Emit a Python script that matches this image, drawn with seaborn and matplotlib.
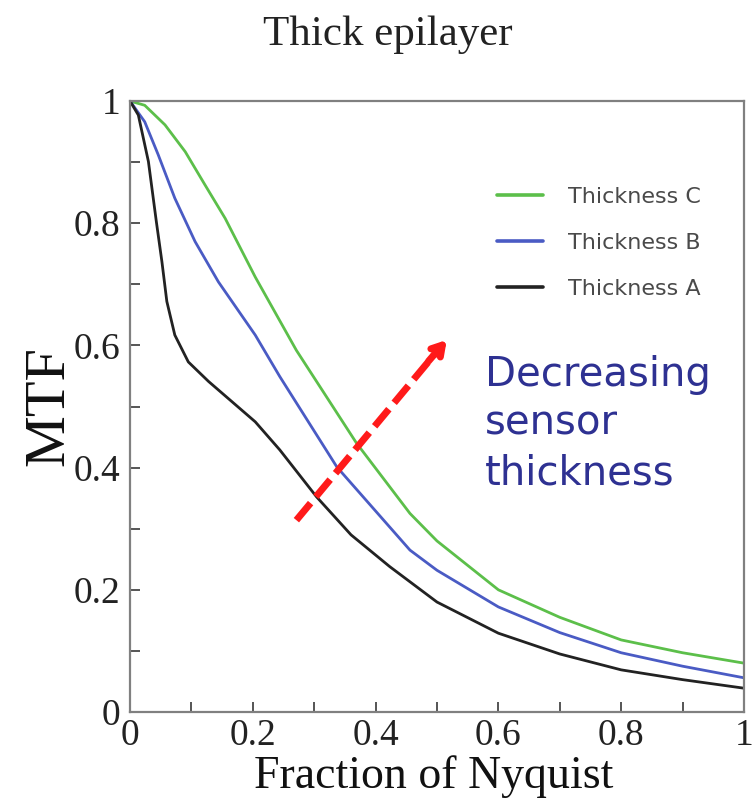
import numpy as np
import pandas as pd
import matplotlib
matplotlib.use("Agg")
import matplotlib.pyplot as plt
import seaborn as sns
from matplotlib.ticker import MultipleLocator, FixedLocator

# ---- data ----
x_c = [0.0, 0.024, 0.057, 0.090, 0.122, 0.155, 0.204, 0.271, 0.369, 0.456, 0.50, 0.60, 0.70, 0.80, 0.90, 1.0]
y_c = [1.0, 0.993, 0.961, 0.917, 0.863, 0.808, 0.712, 0.592, 0.440, 0.325, 0.28, 0.20, 0.155, 0.118, 0.097, 0.08]

x_b = [0.0, 0.024, 0.046, 0.073, 0.106, 0.144, 0.204, 0.244, 0.337, 0.456, 0.50, 0.60, 0.70, 0.80, 0.90, 1.0]
y_b = [1.0, 0.966, 0.912, 0.841, 0.770, 0.704, 0.617, 0.549, 0.401, 0.265, 0.232, 0.172, 0.13, 0.097, 0.075, 0.056]

x_a = [0.0, 0.0136, 0.030, 0.043, 0.052, 0.060, 0.073, 0.095, 0.128, 0.166, 0.204, 0.244, 0.304, 0.36, 0.423, 0.50, 0.60, 0.70, 0.80, 0.90, 1.0]
y_a = [1.0, 0.977, 0.901, 0.802, 0.737, 0.672, 0.617, 0.573, 0.541, 0.508, 0.475, 0.429, 0.352, 0.29, 0.238, 0.18, 0.129, 0.095, 0.069, 0.053, 0.039]

series = ["Thickness C", "Thickness B", "Thickness A"]
colors = ["#5cbf4a", "#4a5bc4", "#222222"]

title = "Thick epilayer"
xlabel = "Fraction of Nyquist"
ylabel = "MTF"
tick_vals = [0, 0.2, 0.4, 0.6, 0.8, 1]
tick_labels = ["0", "0.2", "0.4", "0.6", "0.8", "1"]
note = "Decreasing\nsensor\nthickness"
arrow_start = (0.271, 0.314)
arrow_end = (0.516, 0.609)

df = pd.concat([
    pd.DataFrame({"x": x_c, "y": y_c, "s": series[0]}),
    pd.DataFrame({"x": x_b, "y": y_b, "s": series[1]}),
    pd.DataFrame({"x": x_a, "y": y_a, "s": series[2]}),
], ignore_index=True)

sns.set_style("white")
plt.rcParams["font.family"] = ["Liberation Serif", "DejaVu Serif"]

fig = plt.figure(figsize=(7.54, 8.05), dpi=100)
ax = fig.add_axes([0.1724, 0.1155, 0.8143, 0.759])

sns.lineplot(data=df, x="x", y="y", hue="s", hue_order=series,
             palette=dict(zip(series, colors)), linewidth=2.0, ax=ax,
             sort=False, estimator=None)

ax.set_xlim(0, 1)
ax.set_ylim(0, 1)

for sp in ax.spines.values():
    sp.set_color("#808080")
    sp.set_linewidth(1.6)
    sp.set_visible(True)

ax.xaxis.set_major_locator(FixedLocator(tick_vals))
ax.yaxis.set_major_locator(FixedLocator(tick_vals))
ax.set_xticklabels(tick_labels)
ax.set_yticklabels(tick_labels)
ax.xaxis.set_minor_locator(MultipleLocator(0.1))
ax.yaxis.set_minor_locator(MultipleLocator(0.1))
ax.tick_params(which="both", direction="in", length=7, width=1.4,
               color="#555555", top=False, right=False, bottom=True, left=True)
ax.tick_params(which="major", labelsize=27, pad=7, labelcolor="#222222")
ax.tick_params(axis="x", which="major", pad=5)

ax.set_xlabel(xlabel, fontsize=33, color="#111111")
ax.xaxis.set_label_coords(0.495, -0.071)
ax.set_ylabel(ylabel, fontsize=42, color="#111111")
ax.yaxis.set_label_coords(-0.0896, 0.5)
fig.text(0.514, 0.957, title, ha="center", va="center", fontsize=31, color="#222222")

leg = ax.legend(loc="upper left", bbox_to_anchor=(0.598, 0.86), frameon=False,
                borderpad=0, borderaxespad=0,
                prop={"family": "DejaVu Sans", "size": 16},
                handlelength=2.07, handletextpad=1.1, labelspacing=1.17,
                labelcolor="#4a4a4a")
for ln in leg.get_lines():
    ln.set_linewidth(2.6)

ax.text(0.578, 0.585, note, transform=ax.transData, ha="left", va="top",
        fontsize=29, color="#2e3192", family="DejaVu Sans", linespacing=1.3)

# dashed arrow
ax.plot([arrow_start[0], arrow_end[0] - 0.012], [arrow_start[1], arrow_end[1] - 0.014],
        color="#ff1a1a", lw=5, linestyle=(0, (3.2, 1.2)),
        dash_capstyle="butt")
ax.annotate("", xy=arrow_end, xytext=(arrow_end[0] - 0.03, arrow_end[1] - 0.035),
            arrowprops=dict(arrowstyle="->,head_length=0.75,head_width=0.45",
                            color="#ff1a1a", lw=5, shrinkA=0, shrinkB=0,
                            capstyle="round", joinstyle="round"))

fig.savefig("out.png", dpi=100)
